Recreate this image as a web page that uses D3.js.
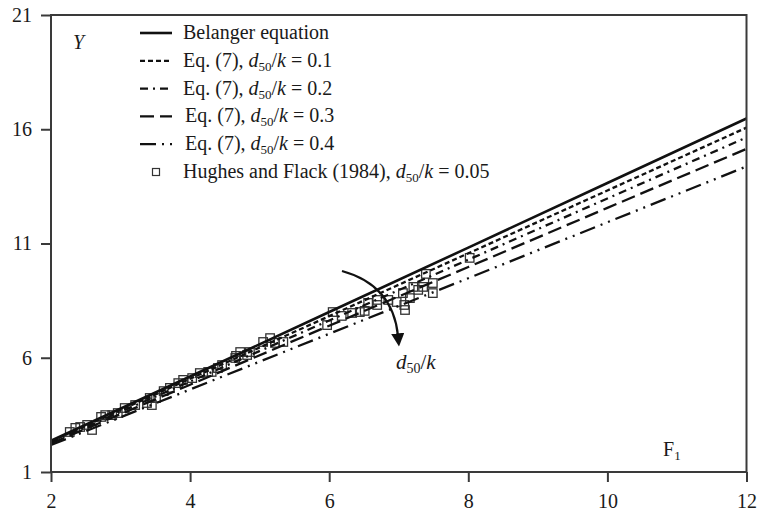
<!DOCTYPE html>
<html>
<head>
<meta charset="utf-8">
<script src="https://cdn.jsdelivr.net/npm/d3@7"></script>
<style>
  html, body { margin: 0; padding: 0; background: #fff; }
  svg text { font-family: "Liberation Serif", "Times New Roman", Times, serif; fill: #1a1a1a; }
</style>
</head>
<body>
<svg id="chart" width="757" height="513"></svg>
<script>
// ---- data ----
const froudeGrid = [2, 4, 6, 8, 10, 12];
const belanger   = [2.37, 5.18, 8.00, 10.82, 13.65, 16.47];
const eq7_d01    = [2.34, 5.08, 7.82, 10.57, 13.32, 16.07];
const eq7_d02    = [2.30, 4.96, 7.63, 10.29, 12.97, 15.64];
const eq7_d03    = [2.25, 4.82, 7.40, 9.97, 12.56, 15.14];
const eq7_d04    = [2.18, 4.61, 7.05, 9.48, 11.93, 14.37];

const hughesF = [2.27, 2.35, 2.42, 2.52, 2.59, 2.72, 2.78, 2.88, 2.96, 3.06,
                 3.21, 3.38, 3.45, 3.42, 3.51, 3.62, 3.71, 3.83, 3.90, 4.03,
                 4.14, 4.26, 4.31, 4.40, 4.46, 4.66, 4.72, 4.65, 4.82, 4.86,
                 5.05, 5.15, 5.22, 5.34, 5.97, 6.05, 6.18, 6.33, 6.44, 6.51,
                 6.56, 6.69, 6.69, 6.85, 6.97, 7.06, 7.09, 7.08, 7.16, 7.21,
                 7.28, 7.35, 7.39, 7.49, 7.49, 8.02];
const hughesY = [2.75, 2.93, 2.97, 3.06, 2.84, 3.41, 3.49, 3.49, 3.58, 3.80,
                 3.93, 4.02, 3.93, 4.24, 4.24, 4.54, 4.68, 4.89, 5.03, 5.11,
                 5.33, 5.38, 5.38, 5.55, 5.68, 6.08, 6.25, 5.99, 6.12, 6.25,
                 6.69, 6.86, 6.65, 6.69, 7.43, 8.00, 7.83, 7.96, 8.00, 8.05,
                 8.40, 8.31, 8.53, 8.53, 8.44, 8.83, 8.09, 8.31, 8.61, 9.10,
                 8.97, 9.10, 9.67, 9.27, 8.83, 10.37];

const xTicks = [2, 4, 6, 8, 10, 12];
const yTicks = [1, 6, 11, 16, 21];

const seriesNames = ["Belanger equation",
                     "Eq. (7), d50/k = 0.1",
                     "Eq. (7), d50/k = 0.2",
                     "Eq. (7), d50/k = 0.3",
                     "Eq. (7), d50/k = 0.4",
                     "Hughes and Flack (1984), d50/k = 0.05"];
const ratioLabels = ["0.1", "0.2", "0.3", "0.4"];

// ---- layout ----
const FONT = '"Liberation Serif", "Times New Roman", Times, serif';
const svg = d3.select("#chart");
const L = 51, R = 746.5, T = 15, B = 472;
const x = d3.scaleLinear().domain([2, 12]).range([L, R]);
const y = d3.scaleLinear().domain([1, 21]).range([B, T]);
const axisColor = "#3a3a3a";
const ink = "#111";

const defs = svg.append("defs");
defs.append("marker")
  .attr("id", "arrowHead")
  .attr("viewBox", "0 0 10 10")
  .attr("refX", 2).attr("refY", 5)
  .attr("markerWidth", 6).attr("markerHeight", 6)
  .attr("markerUnits", "strokeWidth")
  .attr("orient", "auto")
  .append("path").attr("d", "M0,0 L10,5 L0,10 Z").attr("fill", ink);

// series lines
const lineSeries = [
  { vals: belanger, dash: null,               w: 2.6 },
  { vals: eq7_d01,  dash: "5,3",              w: 2.3 },
  { vals: eq7_d02,  dash: "8,5,2,5",          w: 2.3 },
  { vals: eq7_d03,  dash: "14,6",             w: 2.3 },
  { vals: eq7_d04,  dash: "16,6,2,6,2,6",     w: 2.3 }
];
const lineGen = d3.line().x(d => x(d[0])).y(d => y(d[1]));

// Hughes and Flack squares
const sq = 8.5;
svg.append("g").selectAll("rect")
  .data(hughesF.map((f, i) => [f, hughesY[i]]))
  .join("rect")
  .attr("x", d => x(d[0]) - sq / 2)
  .attr("y", d => y(d[1]) - sq / 2)
  .attr("width", sq).attr("height", sq)
  .attr("fill", "none")
  .attr("stroke", "#333")
  .attr("stroke-width", 1.3);

svg.append("g").selectAll("path")
  .data(lineSeries)
  .join("path")
  .attr("d", s => lineGen(froudeGrid.map((f, i) => [f, s.vals[i]])))
  .attr("fill", "none")
  .attr("stroke", ink)
  .attr("stroke-width", s => s.w)
  .attr("stroke-dasharray", s => s.dash);

// frame
svg.append("rect")
  .attr("x", L).attr("y", T).attr("width", R - L).attr("height", B - T)
  .attr("fill", "none").attr("stroke", axisColor).attr("stroke-width", 2);

// axes
const xAxis = svg.append("g").attr("transform", `translate(0,${B})`)
  .call(d3.axisBottom(x).tickValues(xTicks).tickSize(10).tickSizeOuter(0).tickPadding(12));
const yAxis = svg.append("g").attr("transform", `translate(${L},0)`)
  .call(d3.axisLeft(y).tickValues(yTicks).tickSize(10).tickSizeOuter(0).tickPadding(9));
[xAxis, yAxis].forEach(g => {
  g.attr("font-family", FONT);
  g.select(".domain").remove();
  g.selectAll(".tick line").attr("stroke", axisColor).attr("stroke-width", 2);
  g.selectAll(".tick text")
    .attr("font-size", 20)
    .style("font-family", FONT)
    .attr("fill", "#1a1a1a");
});

// axis titles
svg.append("text").attr("x", 73).attr("y", 49)
  .attr("font-size", 20).attr("font-style", "italic").text("Y");
const fl = svg.append("text").attr("x", 663).attr("y", 456).attr("font-size", 20);
fl.append("tspan").text("F");
fl.append("tspan").attr("font-size", 13).attr("dy", 4).text("1");

// curved arrow with label
svg.append("path")
  .attr("d", "M342,271 Q393,285 398,336")
  .attr("fill", "none").attr("stroke", ink).attr("stroke-width", 2.2)
  .attr("marker-end", "url(#arrowHead)");
const ak = svg.append("text").attr("x", 396).attr("y", 369).attr("font-size", 21);
ak.append("tspan").attr("font-style", "italic").text("d");
ak.append("tspan").attr("font-size", 14).attr("dy", 4).text("50");
ak.append("tspan").attr("dy", -4).text("/");
ak.append("tspan").attr("font-style", "italic").text("k");

// legend
const legX0 = 140, legX1 = 172, legText = 183, legY0 = 33, legStep = 27.8;
const leg = svg.append("g");
seriesNames.forEach((name, i) => {
  const yy = legY0 + i * legStep;
  if (i < 5) {
    leg.append("line")
      .attr("x1", legX0).attr("x2", legX1).attr("y1", yy).attr("y2", yy)
      .attr("stroke", ink).attr("stroke-width", lineSeries[i].w)
      .attr("stroke-dasharray", lineSeries[i].dash);
  } else {
    leg.append("rect")
      .attr("x", 156 - 3.5).attr("y", yy - 3.5).attr("width", 7).attr("height", 7)
      .attr("fill", "none").attr("stroke", "#333").attr("stroke-width", 1.2);
  }
  const t = leg.append("text").attr("x", legText + (i === 3 || i === 4 ? 2 : 0))
    .attr("y", yy + 6).attr("font-size", 20);
  if (i === 0) {
    t.text(name);
  } else {
    const prefix = i < 5 ? "Eq. (7), " : "Hughes and Flack (1984), ";
    const val = i < 5 ? ratioLabels[i - 1] : "0.05";
    t.append("tspan").text(prefix);
    t.append("tspan").attr("font-style", "italic").text("d");
    t.append("tspan").attr("font-size", 13).attr("dy", 4).text("50");
    t.append("tspan").attr("dy", -4).text("/");
    t.append("tspan").attr("font-style", "italic").text("k");
    t.append("tspan").text(" = " + val);
  }
});
</script>
</body>
</html>
